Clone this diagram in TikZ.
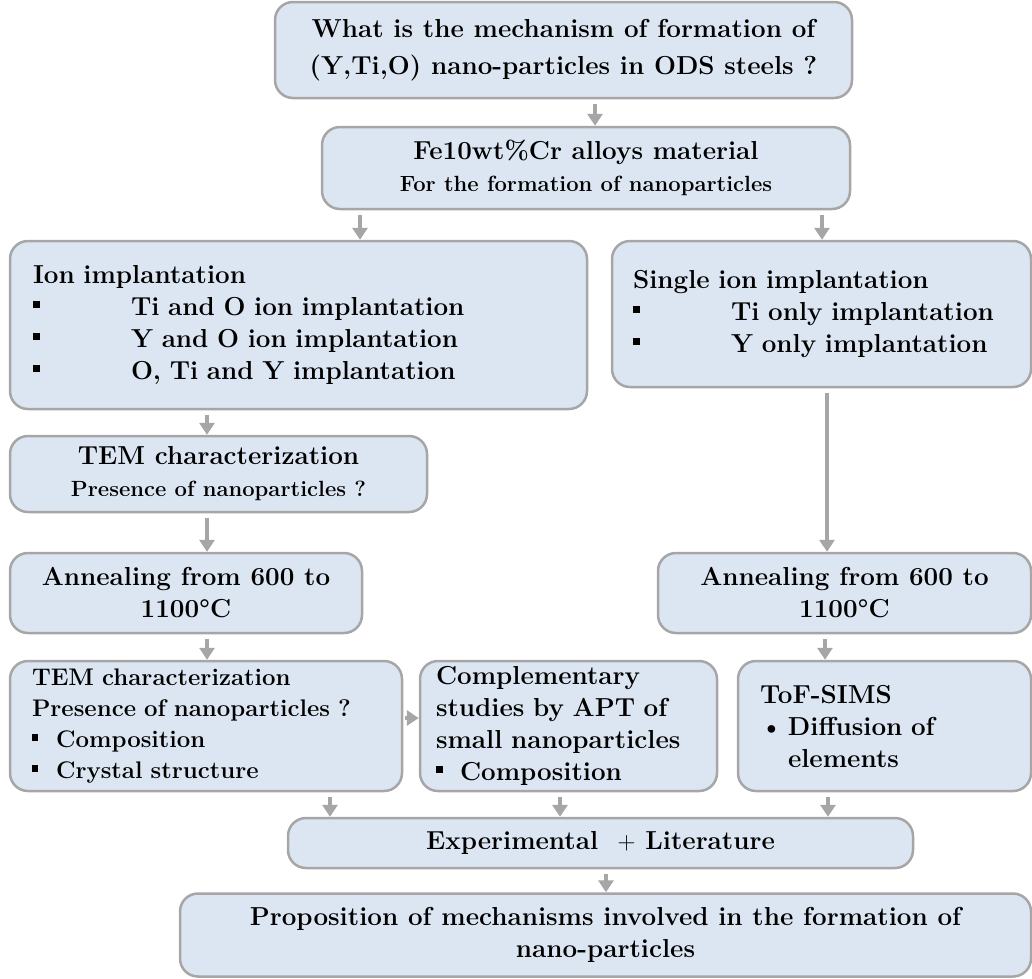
\documentclass[tikz,border=0pt]{standalone}
\usepackage{fontspec}
\usetikzlibrary{arrows.meta}
\definecolor{boxfill}{HTML}{DCE6F2}
\definecolor{boxline}{HTML}{A6A6A6}
\newcommand{\sqbul}{\rule[0.28em]{0.27em}{0.27em}}
\tikzset{
  box/.style={draw=boxline, fill=boxfill, line width=2.5pt, rounded corners=18pt,
    inner sep=0pt, align=center, font=\bfseries\fontsize{26pt}{32pt}\selectfont},
  arr/.style={draw=boxline, line width=4.5pt, -{Triangle[width=15pt,length=12pt]},
    shorten <=5pt},
}
\begin{document}
\begin{tikzpicture}[x=1pt,y=-1pt]
\useasboundingbox (0,0) rectangle (1032,978);
% question and material
\node[box, minimum width=577pt, minimum height=96pt] (q) at (563.5,50)
  {What is the mechanism of formation of\\[5pt] (Y,Ti,O) nano-particles in ODS steels ?};
\node[box, minimum width=528pt, minimum height=82pt] (fe) at (586,168)
  {Fe10wt\%Cr alloys material\\{\fontsize{22pt}{28pt}\selectfont For the formation of nanoparticles}};
% implantation
\node[box, minimum width=577pt, minimum height=168pt, text width=531pt, align=left] (ion) at (298.5,325)
  {Ion implantation\\
   \makebox[98pt][l]{\sqbul}Ti and O ion implantation\\
   \makebox[98pt][l]{\sqbul}Y and O ion implantation\\
   \makebox[98pt][l]{\sqbul}O, Ti and Y implantation};
\node[box, minimum width=419pt, minimum height=146pt, text width=377pt, align=left] (single) at (821.5,314)
  {Single ion implantation\\
   \makebox[98pt][l]{\sqbul}Ti only implantation\\
   \makebox[98pt][l]{\sqbul}Y only implantation};
% left branch
\node[box, minimum width=417pt, minimum height=76pt] (tem1) at (218.5,474)
  {TEM characterization\\{\fontsize{22pt}{28pt}\selectfont Presence of nanoparticles ?}};
\node[box, minimum width=352pt, minimum height=80pt] (ann1) at (186,593)
  {Annealing from 600 to\\ 1100°C};
\node[box, minimum width=373pt, minimum height=80pt] (ann2) at (844.5,593)
  {Annealing from 600 to\\ 1100°C};
% characterization
\node[box, minimum width=392pt, minimum height=130pt, text width=348pt, align=left,
  font=\bfseries\fontsize{24pt}{31pt}\selectfont] (tem2) at (206,726)
  {TEM characterization\\
   Presence of nanoparticles ?\\
   \makebox[24pt][l]{\sqbul}Composition\\
   \makebox[24pt][l]{\sqbul}Crystal structure};
\node[box, minimum width=297pt, minimum height=130pt, text width=265pt, align=left] (apt) at (568.5,726)
  {Complementary\\
   studies by APT of\\
   small nanoparticles\\
   \makebox[24pt][l]{\sqbul}Composition};
\node[box, minimum width=293pt, minimum height=130pt, text width=249pt, align=left] (tof) at (884.5,726)
  {ToF-SIMS\\
   \makebox[28pt][l]{\textbullet}Diffusion of\\
   \hspace*{28pt}elements};
% synthesis
\node[box, minimum width=625pt, minimum height=50pt] (exp) at (600.5,843)
  {Experimental\ \ $+$ Literature};
\node[box, minimum width=851pt, minimum height=83pt] (prop) at (605.5,935)
  {Proposition of mechanisms involved in the formation of\\ nano-particles};
% arrows
\draw[arr] ([xshift=31.5pt]q.south) -- ([xshift=31.5pt]q.south |- fe.north);
\draw[arr] ([xshift=-226pt]fe.south) -- ([xshift=-226pt]fe.south |- ion.north);
\draw[arr] ([xshift=236pt]fe.south) -- ([xshift=236pt]fe.south |- single.north);
\draw[arr] ([xshift=-91.5pt]ion.south) -- ([xshift=-91.5pt]ion.south |- tem1.north);
\draw[arr] ([xshift=-11.5pt]tem1.south) -- ([xshift=-11.5pt]tem1.south |- ann1.north);
\draw[arr] ([xshift=21pt]ann1.south) -- ([xshift=21pt]ann1.south |- tem2.north);
\draw[arr] ([xshift=5.5pt]single.south) -- ([xshift=5.5pt]single.south |- ann2.north);
\draw[arr] ([xshift=-19.5pt]ann2.south) -- ([xshift=-19.5pt]ann2.south |- tof.north);
\draw[arr, shorten <=2pt] ([yshift=8pt]tem2.east) -- ([yshift=8pt]tem2.east -| apt.west);
\draw[arr] ([xshift=124pt]tem2.south) -- ([xshift=124pt]tem2.south |- exp.north);
\draw[arr] ([xshift=-8.5pt]apt.south) -- ([xshift=-8.5pt]apt.south |- exp.north);
\draw[arr] ([xshift=-56.5pt]tof.south) -- ([xshift=-56.5pt]tof.south |- exp.north);
\draw[arr] ([xshift=5.5pt]exp.south) -- ([xshift=5.5pt]exp.south |- prop.north);
\end{tikzpicture}
\end{document}
